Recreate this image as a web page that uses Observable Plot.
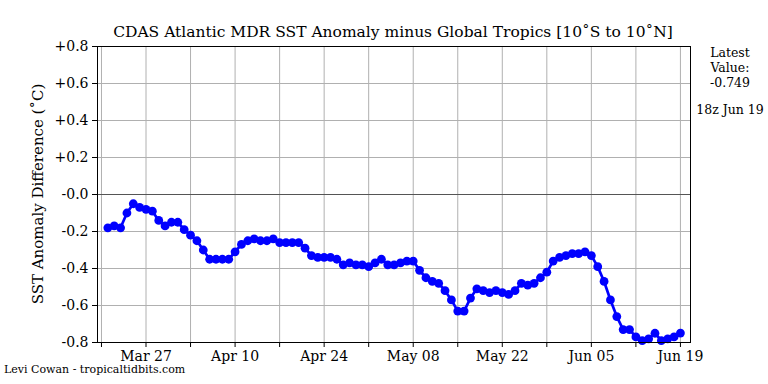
<!DOCTYPE html>
<html><head><meta charset="utf-8">
<script src="https://cdn.jsdelivr.net/npm/d3@7"></script>
<script src="https://cdn.jsdelivr.net/npm/@observablehq/plot@0.6"></script>
<style>
body{margin:0;background:#fff;}
#wrap{position:relative;width:768px;height:384px;font-family:"DejaVu Serif",serif;color:#000;}
.t{position:absolute;white-space:nowrap;line-height:1;}
</style></head><body><div id="wrap"></div>
<script>
const dates = [
"2024-03-21","2024-03-22","2024-03-23","2024-03-24","2024-03-25","2024-03-26","2024-03-27","2024-03-28","2024-03-29","2024-03-30","2024-03-31",
"2024-04-01","2024-04-02","2024-04-03","2024-04-04","2024-04-05","2024-04-06","2024-04-07","2024-04-08","2024-04-09","2024-04-10",
"2024-04-11","2024-04-12","2024-04-13","2024-04-14","2024-04-15","2024-04-16","2024-04-17","2024-04-18","2024-04-19","2024-04-20",
"2024-04-21","2024-04-22","2024-04-23","2024-04-24","2024-04-25","2024-04-26","2024-04-27","2024-04-28","2024-04-29","2024-04-30",
"2024-05-01","2024-05-02","2024-05-03","2024-05-04","2024-05-05","2024-05-06","2024-05-07","2024-05-08","2024-05-09","2024-05-10",
"2024-05-11","2024-05-12","2024-05-13","2024-05-14","2024-05-15","2024-05-16","2024-05-17","2024-05-18","2024-05-19","2024-05-20",
"2024-05-21","2024-05-22","2024-05-23","2024-05-24","2024-05-25","2024-05-26","2024-05-27","2024-05-28","2024-05-29","2024-05-30","2024-05-31",
"2024-06-01","2024-06-02","2024-06-03","2024-06-04","2024-06-05","2024-06-06","2024-06-07","2024-06-08","2024-06-09","2024-06-10",
"2024-06-11","2024-06-12","2024-06-13","2024-06-14","2024-06-15","2024-06-16","2024-06-17","2024-06-18","2024-06-19"
];
const values = [
-0.18,-0.17,-0.18,-0.10,-0.05,-0.07,-0.08,-0.09,-0.14,-0.17,-0.15,
-0.15,-0.19,-0.22,-0.25,-0.30,-0.35,-0.35,-0.35,-0.35,-0.31,
-0.27,-0.25,-0.24,-0.25,-0.25,-0.24,-0.26,-0.26,-0.26,-0.26,
-0.29,-0.33,-0.34,-0.34,-0.34,-0.35,-0.38,-0.37,-0.38,-0.38,
-0.39,-0.37,-0.35,-0.38,-0.38,-0.37,-0.36,-0.36,-0.41,-0.45,
-0.47,-0.48,-0.52,-0.57,-0.63,-0.63,-0.56,-0.51,-0.52,-0.53,
-0.52,-0.53,-0.54,-0.52,-0.48,-0.49,-0.48,-0.45,-0.42,-0.36,-0.34,
-0.33,-0.32,-0.32,-0.31,-0.33,-0.39,-0.47,-0.57,-0.66,-0.73,
-0.73,-0.77,-0.79,-0.78,-0.75,-0.79,-0.78,-0.77,-0.749
];
const gridDates = ["2024-03-20","2024-03-27","2024-04-03","2024-04-10","2024-04-17","2024-04-24","2024-05-01","2024-05-08","2024-05-15","2024-05-22","2024-05-29","2024-06-05","2024-06-12","2024-06-19"];
const labelDates = ["2024-03-27","2024-04-10","2024-04-24","2024-05-08","2024-05-22","2024-06-05","2024-06-19"];
const labelTexts = ["Mar 27","Apr 10","Apr 24","May 08","May 22","Jun 05","Jun 19"];
const yTicks = [0.8,0.6,0.4,0.2,0,-0.2,-0.4,-0.6,-0.8];
const yTickLabels = ["+0.8","+0.6","+0.4","+0.2","-0.0","-0.2","-0.4","-0.6","-0.8"];
const xDomain = ["2024-03-19T09:00Z","2024-06-20T14:00Z"];

const data = dates.map((d,i)=>({date:new Date(d+"T00:00Z"), v:values[i]}));
const gridD = gridDates.map(d=>new Date(d+"T00:00Z"));
const labelMap = new Map(labelDates.map((d,i)=>[+new Date(d+"T00:00Z"), labelTexts[i]]));
const yLabelMap = new Map(yTicks.map((t,i)=>[t, yTickLabels[i]]));

const chart = Plot.plot({
  width:768, height:384,
  marginLeft:97, marginRight:78, marginTop:46, marginBottom:42,
  style:{fontFamily:"'DejaVu Serif', serif", fontSize:"14px", color:"#000", background:"#fff"},
  x:{type:"utc", domain:xDomain.map(d=>new Date(d))},
  y:{domain:[-0.8,0.8]},
  marks:[
    Plot.ruleX(gridD, {stroke:"#b0b0b0", strokeWidth:1, strokeOpacity:1}),
    Plot.ruleY(yTicks.filter(t=>t!==0 && Math.abs(t)!==0.8), {stroke:"#b0b0b0", strokeWidth:1, strokeOpacity:1}),
    Plot.ruleY([0], {stroke:"#555", strokeWidth:1.2}),
    Plot.line(data, {x:"date", y:"v", stroke:"#0000ff", strokeWidth:2.7}),
    Plot.dot(data, {x:"date", y:"v", r:4.4, fill:"#0000ff", stroke:"none"}),
    Plot.frame({stroke:"#000", strokeWidth:1}),
    Plot.axisX({ticks:gridD, tickFormat:d=>labelMap.get(+d) ?? "", tickSize:5, tickPadding:4, label:null, fontSize:14}),
    Plot.axisY({ticks:yTicks, tickFormat:d=>yLabelMap.get(Math.round(d*10)/10) ?? "", tickSize:5, tickPadding:4, label:null, fontSize:14})
  ]
});
const wrap = document.getElementById("wrap");
wrap.appendChild(chart);
chart.style.position="absolute"; chart.style.left="0"; chart.style.top="0";

function addText(txt, css){
  const el=document.createElement("div"); el.className="t"; el.textContent=txt;
  Object.assign(el.style, css); wrap.appendChild(el); return el;
}
addText("CDAS Atlantic MDR SST Anomaly minus Global Tropics [10\u02DAS to 10\u02DAN]", {left:"393px", top:"25px", fontSize:"15.5px", transform:"translateX(-50%)"});
addText("SST Anomaly Difference (\u02DAC)", {left:"38px", top:"194px", fontSize:"15px", transform:"translate(-50%,-50%) rotate(-90deg)"});
const lv=addText("", {left:"730px", top:"45px", fontSize:"12.5px", transform:"translateX(-50%)", textAlign:"center", lineHeight:"15px"});
lv.innerHTML="Latest<br>Value:<br>-0.749";
addText("18z Jun 19", {left:"730px", top:"104px", fontSize:"12.5px", transform:"translateX(-50%)"});
addText("Levi Cowan - tropicaltidbits.com", {left:"4px", top:"364px", fontSize:"11px"});
</script></body></html>
